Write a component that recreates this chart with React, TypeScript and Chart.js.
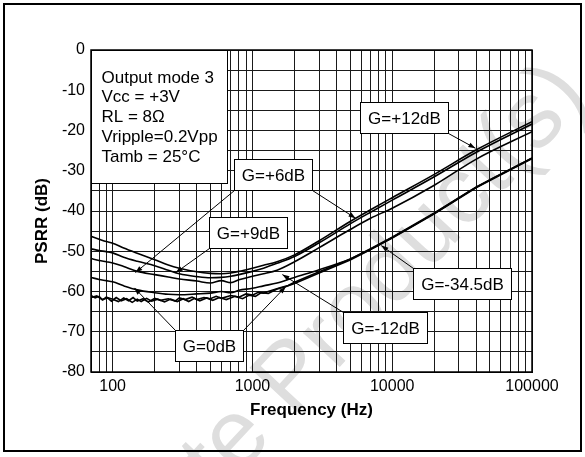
import React, { useEffect, useRef } from 'react';
import { Chart, registerables } from 'chart.js';

Chart.register(...registerables);

const FONT = "'Liberation Sans', Arial, Helvetica, sans-serif";

// ---- axes ----
const xMin = 70;
const xMax = 100000;
const xGridValues = [70, 80, 90, 100, 200, 300, 400, 500, 600, 700, 800, 900, 1000, 2000, 3000, 4000, 5000, 6000, 7000, 8000, 9000, 10000, 20000, 30000, 40000, 50000, 60000, 70000, 80000, 90000, 100000];
const xLabelValues = [100, 1000, 10000, 100000];
const xTickLabels = ['100', '1000', '10000', '100000'];
const yMin = -80;
const yMax = 0;
const yGridValues = [0, -5, -10, -15, -20, -25, -30, -35, -40, -45, -50, -55, -60, -65, -70, -75, -80];
const yLabelValues = [0, -10, -20, -30, -40, -50, -60, -70, -80];
const yTickLabels = ['0', '-10', '-20', '-30', '-40', '-50', '-60', '-70', '-80'];
const xTitle = 'Frequency (Hz)';
const yTitle = 'PSRR (dB)';

// ---- series (Hz / dB) ----
const freqMain = [70, 80, 90, 100, 120, 150, 200, 250, 300, 400, 500, 600, 700, 800, 1000, 1200, 1500, 2000, 3000, 5000, 7000, 10000, 20000, 40000, 100000];
const psrrCurve1 = [-46.3, -47.0, -47.6, -48.0, -49.2, -50.5, -52.1, -53.4, -54.2, -55.1, -55.5, -55.6, -55.4, -55.0, -54.2, -53.5, -52.6, -50.9, -47.4, -42.6, -39.7, -36.7, -30.9, -24.8, -17.8];
const psrrCurve2 = [-49.4, -49.8, -50.1, -50.4, -51.5, -52.5, -53.6, -54.7, -55.6, -56.3, -56.6, -56.5, -56.2, -55.8, -55.0, -54.2, -53.0, -51.3, -47.9, -43.2, -40.3, -37.3, -31.5, -25.4, -18.4];
const psrrCurve3 = [-51.8, -52.3, -52.6, -52.9, -53.8, -55.0, -55.8, -56.4, -56.9, -57.4, -57.9, -57.3, -57.8, -57.1, -56.2, -55.6, -54.7, -52.6, -49.1, -44.6, -41.8, -39.3, -33.6, -27.1, -20.3];
const psrrCurve4 = [-56.5, -57.0, -57.3, -57.6, -58.6, -59.6, -60.3, -60.7, -60.8, -60.6, -60.4, -60.0, -60.3, -59.7, -59.2, -58.6, -57.9, -56.5, -54.6, -51.9, -49.5, -46.6, -40.6, -34.1, -26.9];
const freqCurve5 = [70, 75, 80, 85, 90, 100, 110, 120, 130, 140, 150, 165, 180, 200, 220, 250, 280, 300, 330, 370, 400, 450, 500, 550, 600, 700, 800, 900, 1000, 1100, 1200, 1400, 1600, 1800, 2000, 3000, 5000, 7000, 10000, 20000, 40000, 100000];
const psrrCurve5 = [-61.0, -61.6, -61.2, -62.1, -61.4, -61.9, -62.5, -61.6, -62.3, -61.5, -62.4, -61.8, -62.6, -61.7, -62.2, -61.8, -62.4, -61.6, -62.0, -61.4, -62.0, -61.5, -61.8, -61.2, -61.7, -61.0, -61.4, -60.6, -60.9, -60.2, -60.4, -59.6, -59.0, -58.5, -57.7, -55.1, -52.0, -49.4, -46.5, -40.5, -34.0, -26.8];
const freqCurve6 = [70, 77, 84, 92, 98, 106, 115, 126, 138, 150, 160, 175, 190, 210, 235, 260, 290, 320, 350, 385, 420, 470, 520, 580, 650, 750, 850, 950, 1050, 1150, 1300, 1500, 1700, 2000, 2500, 3000, 5000, 7000, 10000, 20000, 40000, 100000];
const psrrCurve6 = [-61.5, -61.1, -62.0, -61.6, -62.4, -61.5, -62.3, -61.8, -62.7, -61.9, -62.5, -61.7, -62.4, -61.9, -62.6, -61.9, -62.5, -61.8, -62.5, -61.7, -62.3, -61.6, -62.2, -61.5, -62.0, -61.2, -61.8, -60.9, -61.2, -60.3, -60.5, -59.4, -58.9, -58.0, -56.6, -55.4, -52.2, -49.6, -46.7, -40.7, -34.2, -27.0];

// ---- annotations (data coordinates) ----
const infoLines = ['Output mode 3', 'Vcc = +3V', 'RL = 8\u03A9', 'Vripple=0.2Vpp', 'Tamb = 25\u00B0C'];
const infoBoxFreq = [70, 663];
const infoBoxDb = [0, -33.1];
const boxLabels = ['G=+12dB', 'G=+6dB', 'G=+9dB', 'G=0dB', 'G=-34.5dB', 'G=-12dB'];
const boxFreq = [12050, 1409, 933, 487, 31620, 8810];
const boxDb = [-16.8, -31.0, -45.3, -73.5, -57.9, -68.9];
const arrowBox = [0, 1, 1, 2, 3, 3, 4, 5];
const arrowCorner = ['br', 'bl', 'br', 'bl', 'tl', 'tr', 'tl', 'tl'];
const arrowFreq = [39350, 145.5, 5470, 283, 143, 1730, 8356, 1637];
const arrowDb = [-24.4, -55.3, -41.8, -55.3, -59.1, -58.8, -48.6, -55.8];

const watermark = 'Obsolete Product(s)';

function toPoints(fs: number[], vs: number[]) {
  return fs.map((f, i) => ({ x: f, y: vs[i] }));
}

function drawArrow(ctx: CanvasRenderingContext2D, x0: number, y0: number, x1: number, y1: number) {
  ctx.beginPath();
  ctx.moveTo(x0, y0);
  ctx.lineTo(x1, y1);
  ctx.stroke();
  const ang = Math.atan2(y1 - y0, x1 - x0);
  const L = 7;
  const W = 2.5;
  const c = Math.cos(ang);
  const s = Math.sin(ang);
  ctx.beginPath();
  ctx.moveTo(x1, y1);
  ctx.lineTo(x1 - L * c + W * s, y1 - L * s - W * c);
  ctx.lineTo(x1 - L * c - W * s, y1 - L * s + W * c);
  ctx.closePath();
  ctx.fill();
}

const decorPlugin = {
  id: 'decor',
  beforeDraw(chart: any) {
    const ctx: CanvasRenderingContext2D = chart.ctx;
    ctx.save();
    ctx.fillStyle = '#ffffff';
    ctx.fillRect(0, 0, chart.width, chart.height);
    // faint watermark
    ctx.translate(292, 418);
    ctx.rotate((-47 * Math.PI) / 180);
    ctx.font = `95px ${FONT}`;
    ctx.fillStyle = '#dedede';
    ctx.textBaseline = 'alphabetic';
    const pre = 'Obsolete ';
    const preW = ctx.measureText(pre).width;
    ctx.fillText(watermark, -preW, 0);
    ctx.restore();
  },
  afterDraw(chart: any) {
    const ctx: CanvasRenderingContext2D = chart.ctx;
    const a = chart.chartArea;
    const xs = chart.scales.x;
    const ys = chart.scales.y;
    ctx.save();

    // plot border
    ctx.strokeStyle = '#000';
    ctx.lineWidth = 1.5;
    ctx.strokeRect(a.left, a.top, a.right - a.left, a.bottom - a.top);

    // info box
    const ix0 = Math.round(xs.getPixelForValue(infoBoxFreq[0])) + 0.5;
    const ix1 = Math.round(xs.getPixelForValue(infoBoxFreq[1])) + 0.5;
    const iy0 = Math.round(ys.getPixelForValue(infoBoxDb[0])) + 0.5;
    const iy1 = Math.round(ys.getPixelForValue(infoBoxDb[1])) + 0.5;
    ctx.fillStyle = '#fff';
    ctx.fillRect(ix0, iy0, ix1 - ix0, iy1 - iy0);
    ctx.lineWidth = 1;
    ctx.strokeStyle = '#000';
    ctx.strokeRect(ix0, iy0, ix1 - ix0, iy1 - iy0);
    ctx.fillStyle = '#000';
    ctx.font = `17px ${FONT}`;
    ctx.textAlign = 'left';
    ctx.textBaseline = 'middle';
    infoLines.forEach((t, i) => {
      ctx.fillText(t, ix0 + 10, iy0 + 27.5 + i * 19.8);
    });

    // label boxes geometry
    ctx.font = `17px ${FONT}`;
    const rects = boxLabels.map((t, i) => {
      const cx = xs.getPixelForValue(boxFreq[i]);
      const cy = ys.getPixelForValue(boxDb[i]);
      const w = Math.round(ctx.measureText(t).width + 15);
      const h = 31;
      const l = Math.round(cx - w / 2) + 0.5;
      const tp = Math.round(cy - h / 2) + 0.5;
      return { l, t: tp, r: l + w, b: tp + h, cx, cy };
    });

    // arrows
    ctx.lineWidth = 1;
    ctx.strokeStyle = '#000';
    ctx.fillStyle = '#000';
    arrowBox.forEach((bi, k) => {
      const r = rects[bi];
      const corner = arrowCorner[k];
      const sx = corner[1] === 'l' ? r.l : r.r;
      const sy = corner[0] === 't' ? r.t : r.b;
      const ex = xs.getPixelForValue(arrowFreq[k]);
      const ey = ys.getPixelForValue(arrowDb[k]);
      drawArrow(ctx, sx, sy, ex, ey);
    });

    // boxes + text
    boxLabels.forEach((t, i) => {
      const r = rects[i];
      ctx.fillStyle = '#fff';
      ctx.fillRect(r.l, r.t, r.r - r.l, r.b - r.t);
      ctx.strokeStyle = '#000';
      ctx.lineWidth = 1;
      ctx.strokeRect(r.l, r.t, r.r - r.l, r.b - r.t);
      ctx.fillStyle = '#000';
      ctx.textAlign = 'center';
      ctx.textBaseline = 'middle';
      ctx.fillText(t, (r.l + r.r) / 2, (r.t + r.b) / 2 + 1);
    });

    // axis titles
    ctx.fillStyle = '#000';
    ctx.font = `bold 17px ${FONT}`;
    ctx.textAlign = 'center';
    ctx.textBaseline = 'middle';
    ctx.fillText(xTitle, (a.left + a.right) / 2, a.bottom + 38.5);
    ctx.save();
    ctx.translate(42, (a.top + a.bottom) / 2 + 10);
    ctx.rotate(-Math.PI / 2);
    ctx.fillText(yTitle, 0, 0);
    ctx.restore();

    // outer frame
    ctx.strokeStyle = '#000';
    ctx.lineWidth = 2;
    ctx.strokeRect(4, 4, chart.width - 8, chart.height - 10);

    ctx.restore();
  },
};

export default function App() {
  const ref = useRef<HTMLCanvasElement | null>(null);

  useEffect(() => {
    if (!ref.current) return;
    const lineStyle = {
      borderColor: '#000',
      borderWidth: 1.6,
      pointRadius: 0,
      fill: false,
    };
    const chart = new Chart(ref.current, {
      type: 'line',
      data: {
        datasets: [
          { ...lineStyle, label: 'c1', data: toPoints(freqMain, psrrCurve1), cubicInterpolationMode: 'monotone' },
          { ...lineStyle, label: 'c2', data: toPoints(freqMain, psrrCurve2), cubicInterpolationMode: 'monotone' },
          { ...lineStyle, label: 'c3', data: toPoints(freqMain, psrrCurve3), cubicInterpolationMode: 'monotone' },
          { ...lineStyle, label: 'c4', data: toPoints(freqMain, psrrCurve4), cubicInterpolationMode: 'monotone' },
          { ...lineStyle, label: 'c5', data: toPoints(freqCurve5, psrrCurve5), tension: 0 },
          { ...lineStyle, label: 'c6', data: toPoints(freqCurve6, psrrCurve6), tension: 0 },
        ],
      },
      options: {
        responsive: false,
        animation: false,
        devicePixelRatio: 1,
        layout: { padding: { left: 0, right: 53, top: 50, bottom: 0 } },
        plugins: { legend: { display: false }, tooltip: { enabled: false } },
        scales: {
          x: {
            type: 'logarithmic',
            min: xMin,
            max: xMax,
            afterBuildTicks: (s: any) => {
              s.ticks = xGridValues.map((v) => ({ value: v }));
            },
            afterFit: (s: any) => {
              s.height = 85;
            },
            grid: { color: '#1a1a1a', lineWidth: 1, drawTicks: false },
            border: { color: '#000', width: 1 },
            ticks: {
              autoSkip: false,
              maxRotation: 0,
              minRotation: 0,
              padding: 5,
              color: '#000',
              font: { family: FONT, size: 16 },
              callback: (v: any) => {
                const idx = xLabelValues.indexOf(Number(v));
                return idx >= 0 ? xTickLabels[idx] : '';
              },
            },
          },
          y: {
            type: 'linear',
            min: yMin,
            max: yMax,
            afterBuildTicks: (s: any) => {
              s.ticks = yGridValues.map((v) => ({ value: v }));
            },
            afterFit: (s: any) => {
              s.width = 91;
            },
            grid: { color: '#1a1a1a', lineWidth: 1, drawTicks: false },
            border: { color: '#000', width: 1 },
            ticks: {
              autoSkip: false,
              padding: 6,
              color: '#000',
              font: { family: FONT, size: 16 },
              callback: (v: any) => {
                const idx = yLabelValues.indexOf(Number(v));
                return idx >= 0 ? yTickLabels[idx] : '';
              },
            },
          },
        },
      } as any,
      plugins: [decorPlugin],
    });
    return () => chart.destroy();
  }, []);

  return (
    <div style={{ position: 'fixed', left: 0, top: 0, width: 585, height: 457, background: '#fff' }}>
      <canvas ref={ref} width={585} height={457} style={{ display: 'block', width: 585, height: 457 }} />
    </div>
  );
}
